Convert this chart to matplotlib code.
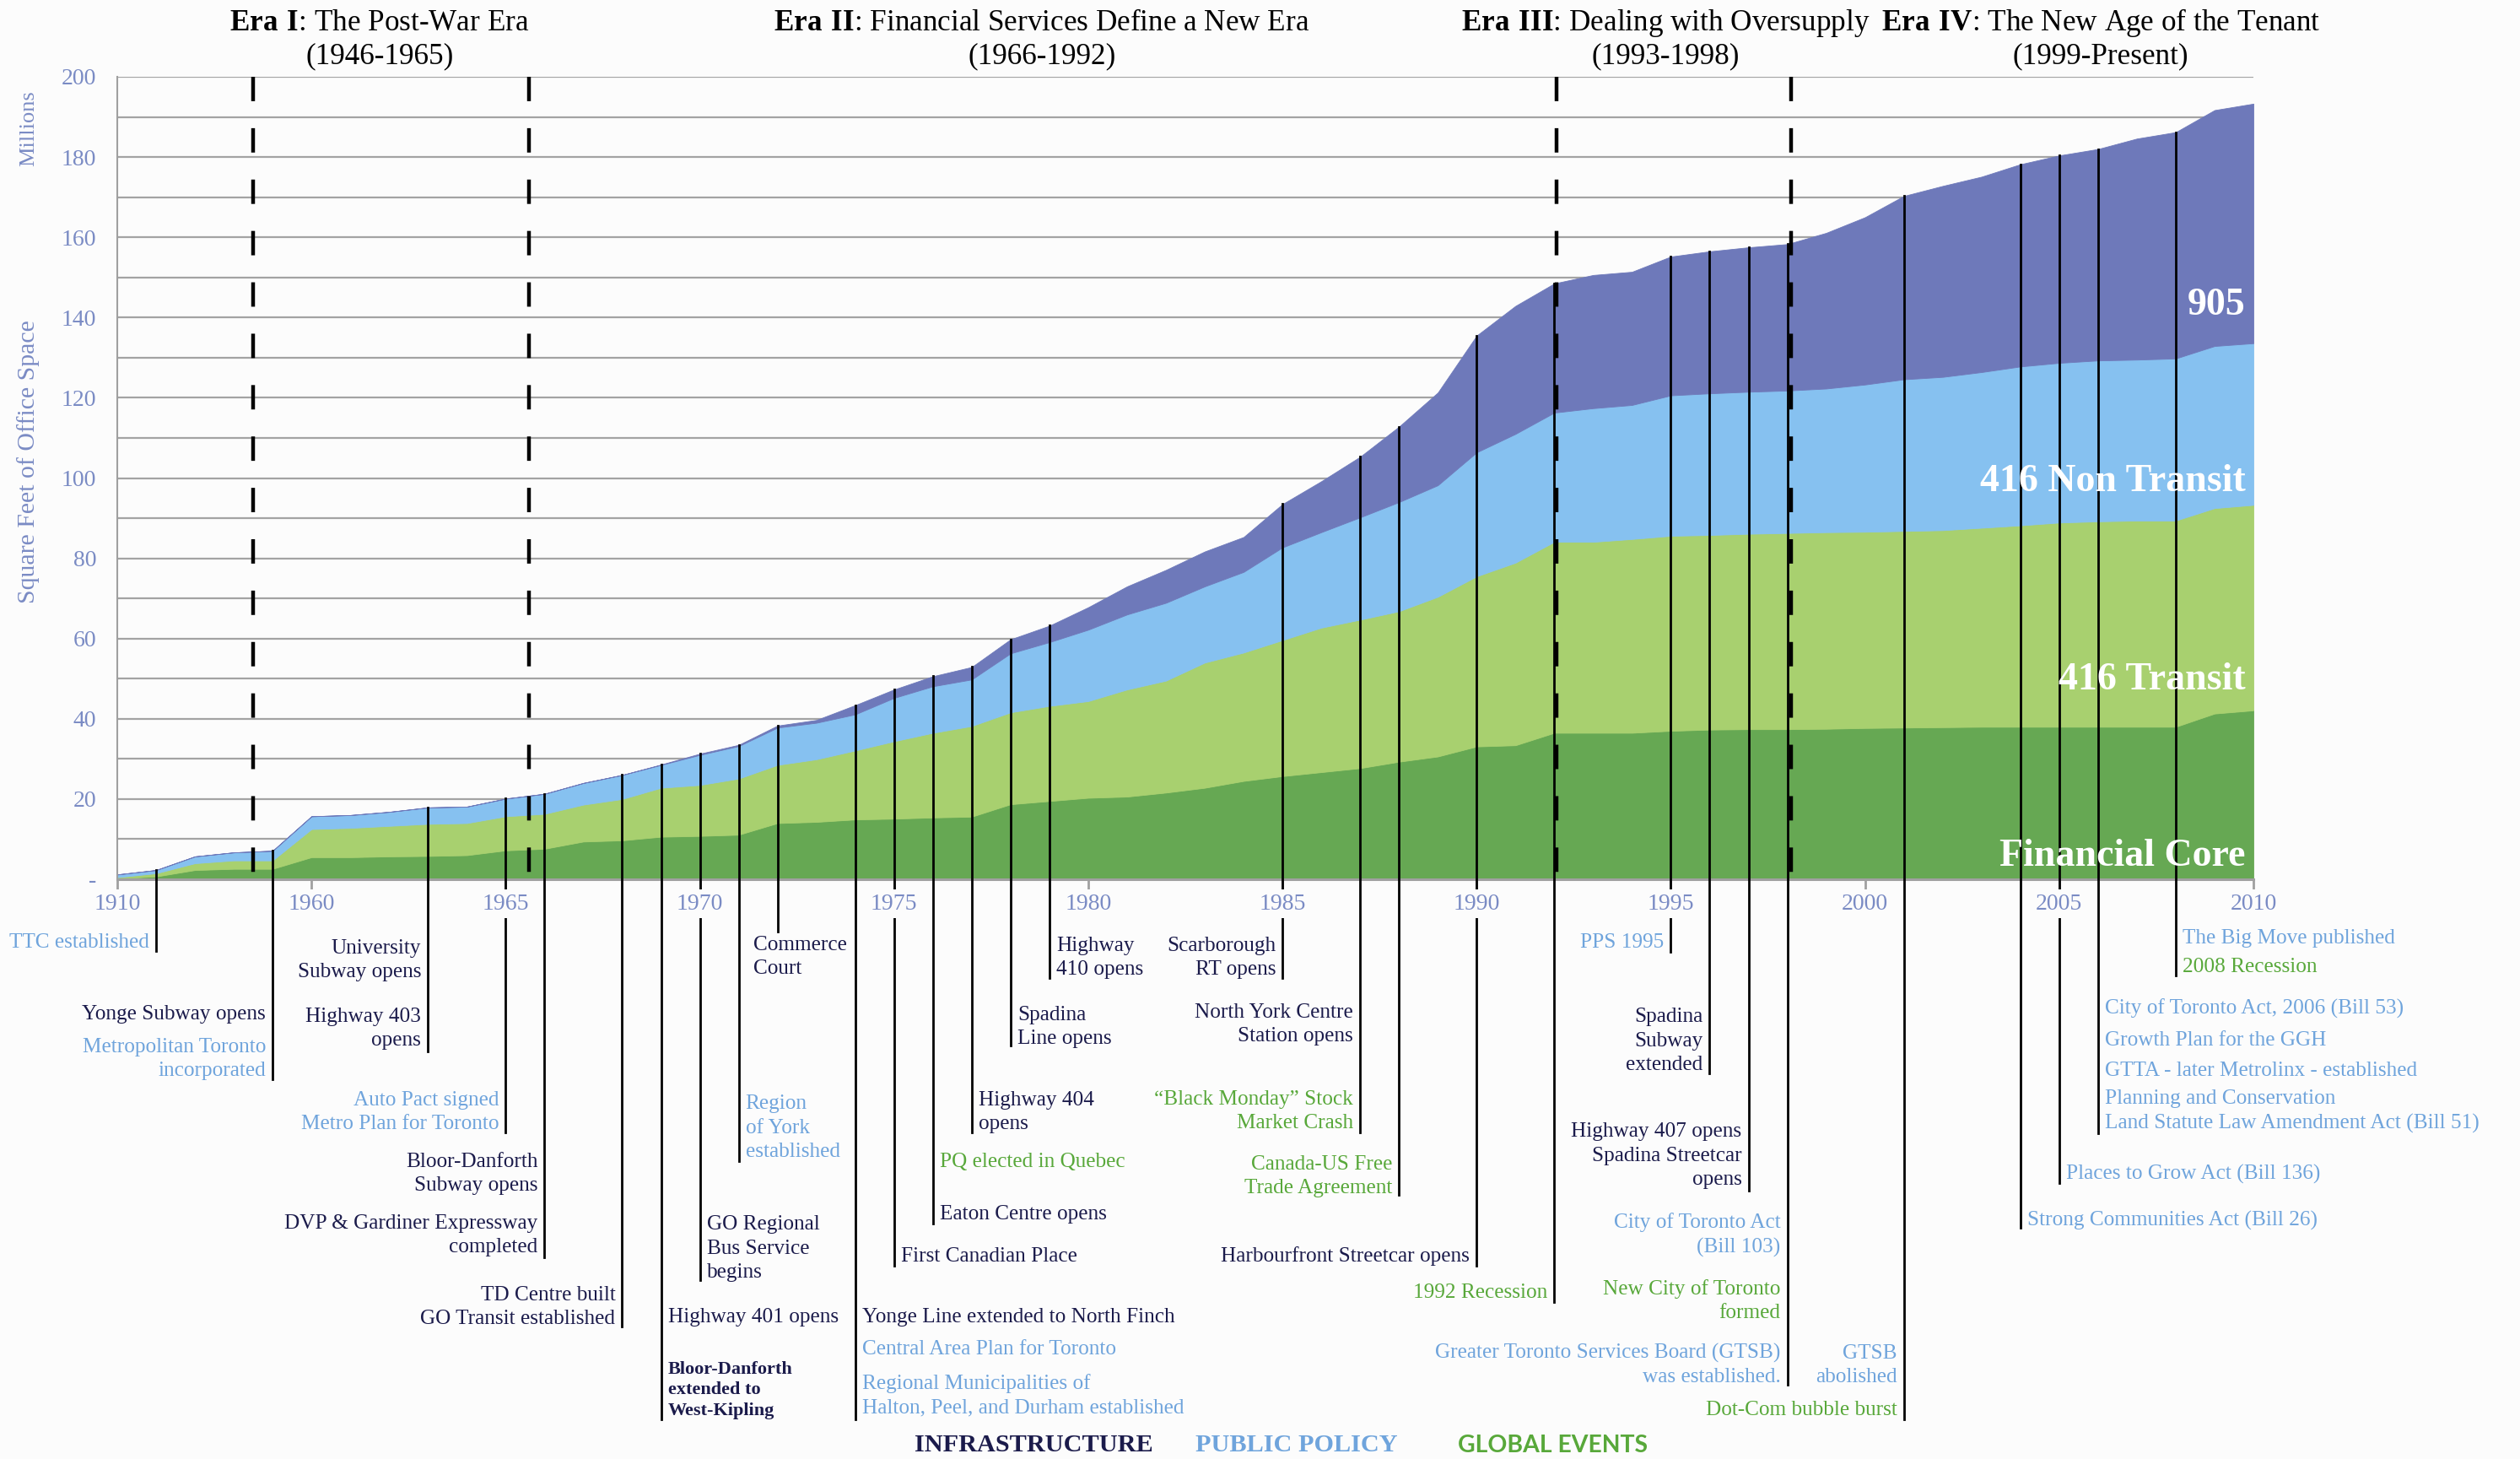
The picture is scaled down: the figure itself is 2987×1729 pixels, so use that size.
import numpy as np
import matplotlib
matplotlib.use('Agg')
import matplotlib.pyplot as plt
from matplotlib import transforms

plt.rcParams['font.family'] = ['Liberation Serif', 'DejaVu Serif']
plt.rcParams['mathtext.fontset'] = 'custom'
plt.rcParams['mathtext.rm'] = 'Liberation Serif'
plt.rcParams['mathtext.bf'] = 'Liberation Serif:bold'

# ---- data (millions of sq ft of office space) ----
years = ['1910', '1920', '1930', '1940', '1950'] + [str(y) for y in range(1960, 2011)]

core = [0.2, 0.7, 2.3, 2.6, 2.6, 5.5, 5.5, 5.7, 5.8, 6.0,
        7.2, 7.6, 9.4, 9.7, 10.6, 10.8, 11.1, 14.0, 14.3, 14.9,
        15.1, 15.4, 15.6, 18.7, 19.5, 20.3, 20.6, 21.6, 22.8, 24.5,
        25.7, 26.7, 27.7, 29.3, 30.6, 33.1, 33.4, 36.5, 36.5, 36.5,
        37.0, 37.3, 37.4, 37.4, 37.5, 37.7, 37.8, 37.9, 38.0, 38.0,
        38.0, 38.0, 38.0, 38.0, 41.3, 42.1]
transit = [0.3, 0.8, 1.7, 2.1, 2.1, 7.0, 7.3, 7.6, 8.0, 8.0,
           8.5, 8.7, 9.2, 10.3, 12.2, 12.7, 14.0, 14.5, 15.6, 17.2,
           19.3, 21.1, 22.6, 22.9, 23.7, 24.1, 26.7, 27.9, 31.2, 32.0,
           33.9, 36.0, 37.0, 37.5, 39.8, 42.4, 45.5, 47.6, 47.6, 48.3,
           48.6, 48.5, 48.7, 48.9, 49.0, 48.9, 49.0, 49.1, 49.6, 50.2,
           50.9, 51.2, 51.4, 51.4, 51.2, 51.2]
non_transit = [0.7, 0.8, 1.7, 2.0, 2.4, 3.2, 3.2, 3.5, 4.1, 4.1,
               4.4, 5.0, 5.4, 6.0, 5.7, 7.5, 8.1, 9.3, 9.1, 9.0,
               10.8, 11.6, 11.6, 14.7, 15.9, 17.8, 18.7, 19.4, 19.0, 20.1,
               23.1, 23.8, 25.5, 27.2, 27.8, 30.9, 32.1, 32.2, 33.3, 33.4,
               35.0, 35.3, 35.4, 35.5, 35.8, 36.7, 37.8, 38.2, 38.8, 39.6,
               39.8, 40.1, 40.1, 40.4, 40.4, 40.3]
region_905 = [0, 0, 0, 0, 0, 0, 0, 0, 0, 0,
              0, 0, 0, 0, 0.1, 0.3, 0.3, 0.5, 0.7, 2.3,
              2.1, 2.5, 3.1, 3.5, 4.1, 5.6, 7.0, 8.2, 8.7, 8.7,
              10.8, 12.7, 15.1, 18.8, 23.1, 29.1, 31.9, 32.2, 33.2, 33.2,
              34.6, 35.4, 36.0, 36.5, 38.8, 41.7, 45.7, 47.6, 48.7, 50.4,
              51.7, 52.7, 55.1, 56.4, 58.8, 59.7]
series_names = ['Financial Core', '416 Transit', '416 Non Transit', '905']

eras = [(r'$\mathbf{Era\ I}$: The Post-War Era', '(1946-1965)'),
        (r'$\mathbf{Era\ II}$: Financial Services Define a New Era', '(1966-1992)'),
        (r'$\mathbf{Era\ III}$: Dealing with Oversupply', '(1993-1998)'),
        (r'$\mathbf{Era\ IV}$: The New Age of the Tenant', '(1999-Present)')]

events = [  # (year, text, kind)
    ('1920', 'TTC established', 'policy'),
    ('1950', 'Yonge Subway opens', 'infra'),
    ('1950', 'Metropolitan Toronto\nincorporated', 'policy'),
    ('1963', 'University\nSubway opens', 'infra'),
    ('1963', 'Highway 403\nopens', 'infra'),
    ('1965', 'Auto Pact signed\nMetro Plan for Toronto', 'policy'),
    ('1966', 'Bloor-Danforth\nSubway opens', 'infra'),
    ('1966', 'DVP & Gardiner Expressway\ncompleted', 'infra'),
    ('1968', 'TD Centre built\nGO Transit established', 'infra'),
    ('1969', 'Highway 401 opens', 'infra'),
    ('1969', 'Bloor-Danforth\nextended to\nWest-Kipling', 'infra'),
    ('1970', 'GO Regional\nBus Service\nbegins', 'infra'),
    ('1971', 'Region\nof York\nestablished', 'policy'),
    ('1972', 'Commerce\nCourt', 'infra'),
    ('1974', 'Yonge Line extended to North Finch', 'infra'),
    ('1974', 'Central Area Plan for Toronto', 'policy'),
    ('1974', 'Regional Municipalities of\nHalton, Peel, and Durham established', 'policy'),
    ('1975', 'First Canadian Place', 'infra'),
    ('1976', 'PQ elected in Quebec', 'global'),
    ('1976', 'Eaton Centre opens', 'infra'),
    ('1977', 'Highway 404\nopens', 'infra'),
    ('1978', 'Spadina\nLine opens', 'infra'),
    ('1979', 'Highway\n410 opens', 'infra'),
    ('1985', 'Scarborough\nRT opens', 'infra'),
    ('1987', 'North York Centre\nStation opens', 'infra'),
    ('1987', '\u201cBlack Monday\u201d Stock\nMarket Crash', 'global'),
    ('1988', 'Canada-US Free\nTrade Agreement', 'global'),
    ('1990', 'Harbourfront Streetcar opens', 'infra'),
    ('1992', '1992 Recession', 'global'),
    ('1995', 'PPS 1995', 'policy'),
    ('1996', 'Spadina\nSubway\nextended', 'infra'),
    ('1997', 'Highway 407 opens\nSpadina Streetcar\nopens', 'infra'),
    ('1998', 'City of Toronto Act\n(Bill 103)', 'policy'),
    ('1998', 'New City of Toronto\nformed', 'global'),
    ('1998', 'Greater Toronto Services Board (GTSB)\nwas established.', 'policy'),
    ('2001', 'GTSB\nabolished', 'policy'),
    ('2001', 'Dot-Com bubble burst', 'global'),
    ('2004', 'Strong Communities Act (Bill 26)', 'policy'),
    ('2005', 'Places to Grow Act (Bill 136)', 'policy'),
    ('2006', 'City of Toronto Act, 2006 (Bill 53)', 'policy'),
    ('2006', 'Growth Plan for the GGH', 'policy'),
    ('2006', 'GTTA - later Metrolinx - established', 'policy'),
    ('2006', 'Planning and Conservation\nLand Statute Law Amendment Act (Bill 51)', 'policy'),
    ('2008', 'The Big Move published', 'policy'),
    ('2008', '2008 Recession', 'global'),
]

# ---- layout (reference pixel rows) ----
event_place = [('L', 1128), ('L', 1213), ('L', 1280), ('L', 1163), ('L', 1244),
               ('L', 1343), ('L', 1416), ('L', 1489), ('L', 1574), ('R', 1572),
               ('R', 1682), ('R', 1519), ('R', 1376), ('B', 1109), ('R', 1572),
               ('R', 1610), ('R', 1679), ('R', 1500), ('R', 1388), ('R', 1450),
               ('R', 1343), ('R', 1242), ('R', 1160), ('L', 1160), ('L', 1239),
               ('L', 1342), ('L', 1419), ('L', 1500), ('L', 1543), ('L', 1128),
               ('L', 1273), ('L', 1409), ('L', 1490), ('L', 1567), ('L', 1643),
               ('L', 1643), ('L', 1682), ('R', 1458), ('R', 1403), ('R', 1207),
               ('R', 1244), ('R', 1280), ('R', 1343), ('R', 1123), ('R', 1157)]
line_ends = {'1920': 1127, '1950': 1279, '1963': 1246, '1965': 1342, '1966': 1490,
             '1968': 1572, '1969': 1682, '1970': 1517, '1971': 1376, '1972': 1104,
             '1974': 1682, '1975': 1500, '1976': 1450, '1977': 1342, '1978': 1239,
             '1979': 1159, '1985': 1159, '1987': 1342, '1988': 1416, '1990': 1500,
             '1992': 1543, '1995': 1128, '1996': 1272, '1997': 1411, '1998': 1641,
             '2001': 1682, '2004': 1455, '2005': 1402, '2006': 1343, '2008': 1156}
era_lines = [3.5, 10.6, 37.05, 43.1]
era_centers = [450, 1235, 1974, 2490]

W, H = 2987, 1729
AX_L, AX_R, AX_T, AX_B = 139, 2671, 91, 1042

BG = '#fcfcfc'
TICK = '#7a8bc4'
kind_color = {'infra': '#1b1b4b', 'policy': '#6fa4dc', 'global': '#58a83a'}
area_colors = ['#66a853', '#a8d06f', '#86c1f0', '#6e79ba']


def ydata(px):
    return (AX_B - px) * 200.0 / (AX_B - AX_T)


fig = plt.figure(figsize=(W / 100, H / 100), dpi=100, facecolor=BG)
ax = fig.add_axes([AX_L / W, 1 - AX_B / H, (AX_R - AX_L) / W, (AX_B - AX_T) / H])
ax.set_facecolor(BG)

x = np.arange(len(years))
total = np.array(core) + np.array(transit) + np.array(non_transit) + np.array(region_905)

ax.hlines(np.arange(10, 201, 10), 0, len(years) - 1, color='#a3a3a3', lw=1.6, zorder=0)
polys = ax.stackplot(x, core, transit, non_transit, region_905, colors=area_colors, zorder=1)
for p in polys:
    p.set_edgecolor(p.get_facecolor())
    p.set_linewidth(0.6)

ax.set_xlim(0, len(years) - 1)
ax.set_ylim(0, 200)
for s in ['top', 'right']:
    ax.spines[s].set_visible(False)
ax.spines['left'].set_color('#a0a0a0')
ax.spines['left'].set_linewidth(1.5)
ax.spines['bottom'].set_color('#a0a0a0')
ax.spines['bottom'].set_linewidth(2.2)

tick_idx = list(range(0, len(years), 5))
ax.set_xticks(tick_idx)
ax.tick_params(axis='x', length=9, width=2, color='#a0a0a0', labelbottom=False)
ax.set_yticks(range(0, 201, 20))
ax.set_yticklabels(['-'] + [str(v) for v in range(20, 201, 20)])
ax.tick_params(axis='y', length=0, pad=18, labelsize=20, labelcolor=TICK)

for i in tick_idx:
    ax.text(i, ydata(1071), years[i], ha='center', va='center', fontsize=20, color=TICK,
            bbox=dict(facecolor=BG, edgecolor='none', pad=3), zorder=10, clip_on=False)

# era boundaries
for p in era_lines:
    ax.plot([p, p], [200, 0], color='black', lw=3.2, dashes=(6.5, 7.2), zorder=4,
            solid_capstyle='butt', clip_on=False)

# event lines
for yr, end in line_ends.items():
    i = years.index(yr)
    ax.plot([i, i], [total[i], ydata(end)], color='black', lw=2.0, zorder=3, clip_on=False)

# event texts
for (yr, txt, kind), (side, row) in zip(events, event_place):
    i = years.index(yr)
    if side == 'L':
        dx, ha, va = -8, 'right', 'bottom'
    elif side == 'R':
        dx, ha, va = 8, 'left', 'bottom'
    else:
        dx, ha, va = -29, 'left', 'top'
    tr = transforms.offset_copy(ax.transData, fig=fig, x=dx, y=0, units='dots')
    bold = txt.startswith('Bloor-Danforth\nextended')
    ax.text(i, ydata(row), txt, transform=tr, ha=ha, va=va, color=kind_color[kind],
            fontsize=16 if bold else 18.2, fontweight='bold' if bold else 'normal',
            linespacing=1.38 if not bold else 1.3, clip_on=False, zorder=6)

# series labels inside the areas
series_rows = [1015, 806, 571, 362]
for name, row in zip(series_names, series_rows):
    ax.text(54.8, ydata(row), name, ha='right', va='center', color='white',
            fontsize=33, fontweight='bold', zorder=7)

# era titles
for (t1, t2), cx in zip(eras, era_centers):
    fig.text(cx / W, 1 - 27 / H, t1, ha='center', va='center', fontsize=25.3, color='black')
    fig.text(cx / W, 1 - 67 / H, t2, ha='center', va='center', fontsize=25.3, color='black')

# y axis titles
fig.text(34 / W, 1 - 152 / H, 'Millions', rotation=90, ha='center', va='center',
         fontsize=19, color=TICK)
fig.text(34 / W, 1 - 547 / H, 'Square Feet of Office Space', rotation=90, ha='center',
         va='center', fontsize=21.5, color=TICK)

# category key
fig.text(1225 / W, 1 - 1713 / H, 'INFRASTRUCTURE', ha='center', va='center', fontsize=21.8,
         fontweight='bold', color=kind_color['infra'])
fig.text(1537 / W, 1 - 1713 / H, 'PUBLIC POLICY', ha='center', va='center', fontsize=21.8,
         fontweight='bold', color=kind_color['policy'])
fig.text(1841 / W, 1 - 1713 / H, 'GLOBAL EVENTS', ha='center', va='center', fontsize=20.4,
         fontweight='bold', color=kind_color['global'], family=['Lato', 'DejaVu Sans'])

fig.savefig('out.png', dpi=100, facecolor=BG)
